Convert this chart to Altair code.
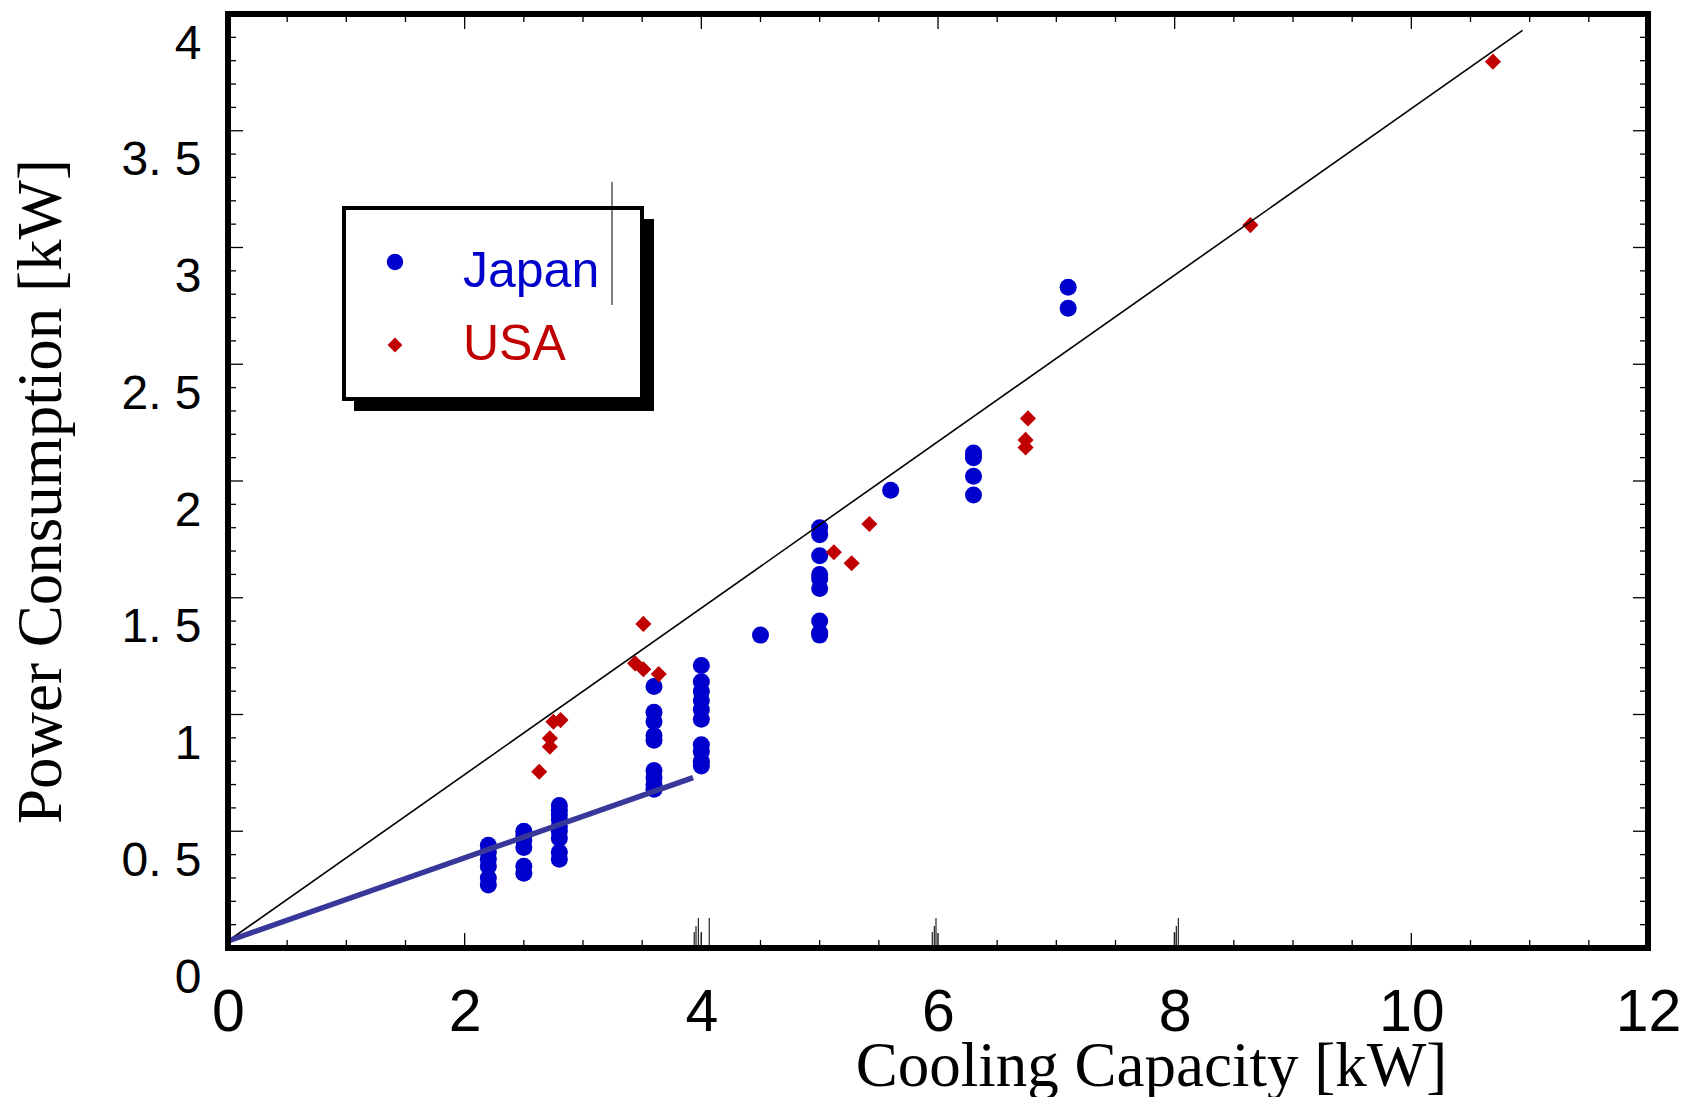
import altair as alt
import pandas as pd

# ---------------- data ----------------
jp_capacity = [2.2, 2.2, 2.2, 2.2, 2.2, 2.2,
               2.5, 2.5, 2.5, 2.5, 2.5, 2.5,
               2.8, 2.8, 2.8, 2.8, 2.8, 2.8, 2.8, 2.8, 2.8,
               3.6, 3.6, 3.6, 3.6, 3.6, 3.6, 3.6, 3.6, 3.6,
               4.0, 4.0, 4.0, 4.0, 4.0, 4.0, 4.0, 4.0, 4.0, 4.0,
               4.5,
               5.0, 5.0, 5.0, 5.0, 5.0, 5.0, 5.0, 5.0, 5.0,
               5.6,
               6.3, 6.3, 6.3, 6.3,
               7.1, 7.1]
jp_power = [0.27, 0.30, 0.35, 0.38, 0.41, 0.44,
            0.50, 0.48, 0.46, 0.43, 0.35, 0.32,
            0.61, 0.59, 0.57, 0.55, 0.52, 0.50, 0.47, 0.41, 0.38,
            1.12, 1.01, 0.97, 0.91, 0.89, 0.76, 0.73, 0.70, 0.68,
            1.21, 1.14, 1.10, 1.06, 1.02, 0.98, 0.87, 0.84, 0.80, 0.78,
            1.34,
            1.80, 1.77, 1.68, 1.60, 1.58, 1.54, 1.40, 1.35, 1.34,
            1.96,
            2.12, 2.10, 2.02, 1.94,
            2.83, 2.74]

us_capacity = [2.63, 2.72, 2.72, 2.75, 2.81, 3.51, 3.44, 3.51, 3.64,
               5.12, 5.27, 5.42, 6.76, 6.74, 6.74, 8.64, 10.69]
us_power = [0.755, 0.898, 0.862, 0.969, 0.976, 1.388, 1.219, 1.194, 1.173,
            1.695, 1.648, 1.816, 2.268, 2.176, 2.144, 3.096, 3.796]

trend_x = [0.0, 10.94]
trend_y = [0.03, 3.93]
jp_fit_x = [0.0, 3.93]
jp_fit_y = [0.03, 0.73]

x_tick_labels = [0, 2, 4, 6, 8, 10, 12]
y_tick_labels = [0, 0.5, 1, 1.5, 2, 2.5, 3, 3.5, 4]
x_major = [2, 4, 6, 8, 10]
x_minor = [0.5, 1, 1.5, 2.5, 3, 3.5, 4.5, 5, 5.5, 6.5, 7, 7.5,
           8.5, 9, 9.5, 10.5, 11, 11.5]
y_major = [0.5, 1, 1.5, 2, 2.5, 3, 3.5]
y_minor = [0.1, 0.2, 0.3, 0.4, 0.6, 0.7, 0.8, 0.9, 1.1, 1.2, 1.3, 1.4,
           1.6, 1.7, 1.8, 1.9, 2.1, 2.2, 2.3, 2.4, 2.6, 2.7, 2.8, 2.9,
           3.1, 3.2, 3.3, 3.4, 3.6, 3.7, 3.8, 3.9]

# small stray strokes visible near the bottom axis of the original
stray_x = [3.94, 3.955, 3.975, 4.0, 4.067, 5.952, 5.969, 5.983, 7.997, 8.014, 8.031]
stray_top = [0.069, 0.094, 0.128, 0.069, 0.128, 0.069, 0.094, 0.128, 0.069, 0.094, 0.128]

legend_labels = ["Japan", "USA"]

# ---------------- layout / style ----------------
W, H = 1420, 934
BLUE = "#0000cc"
RED = "#c00000"
LINEBLUE = "#38389a"
xs = alt.Scale(domain=[0, 12], nice=False, zero=False)
ys = alt.Scale(domain=[0, 4], nice=False, zero=False)

jp = pd.DataFrame({"cap": jp_capacity, "pow": jp_power})
us = pd.DataFrame({"cap": us_capacity, "pow": us_power})
trend = pd.DataFrame({"cap": trend_x, "pow": trend_y})
fit = pd.DataFrame({"cap": jp_fit_x, "pow": jp_fit_y})
one = pd.DataFrame({"a": [0]})

x_axis = alt.Axis(
    values=x_tick_labels, format="d", domain=False, ticks=True, tickSize=0,
    grid=False, labelFont="'Liberation Sans Narrow', 'Liberation Sans', sans-serif",
    labelFontSize=59, labelColor="black", labelPadding=82,
    labelBaseline="alphabetic", labelFlush=False, labelOverlap=False,
    title="Cooling Capacity [kW]", titleFont="Liberation Serif",
    titleFontSize=63, titleFontWeight="normal", titleColor="black",
    titleX=923, titleY=137, titleAlign="center", titleBaseline="alphabetic",
)
y_axis = alt.Axis(
    values=y_tick_labels,
    labelExpr="datum.value % 1 == 0 ? format(datum.value, 'd') : replace(format(datum.value, '.1f'), '.', '. ')",
    domain=False, ticks=True, tickSize=0, grid=False,
    labelFont="Liberation Sans", labelFontSize=48, labelColor="black",
    labelPadding=27, labelOffset=30, labelBaseline="middle", labelAlign="right",
    labelFlush=False, labelOverlap=False,
    title="Power Consumption [kW]", titleFont="Liberation Serif",
    titleFontSize=63, titleFontWeight="normal", titleColor="black",
    titleX=-168, titleY=477, titleAngle=270, titleAlign="center",
    titleBaseline="alphabetic",
)


def X(field):
    return alt.X(field, scale=xs, axis=x_axis)


def Y(field):
    return alt.Y(field, scale=ys, axis=y_axis)


layers = []

# points first (they carry the axes)
layers.append(
    alt.Chart(jp).mark_point(shape="circle", filled=True, size=290, color=BLUE, opacity=1).encode(
        x=X("cap:Q"), y=Y("pow:Q")
    )
)
layers.append(
    alt.Chart(us).mark_point(shape="diamond", filled=True, size=260, color=RED, opacity=1).encode(
        x=X("cap:Q"), y=Y("pow:Q")
    )
)

# lines
layers.append(
    alt.Chart(trend).mark_line(color="black", strokeWidth=1.6).encode(x=X("cap:Q"), y=Y("pow:Q"))
)
layers.append(
    alt.Chart(fit).mark_line(color=LINEBLUE, strokeWidth=5.5).encode(x=X("cap:Q"), y=Y("pow:Q"))
)


# inner tick marks on all four sides
def tick_layers(vals, length, axis_name):
    d = pd.DataFrame({"cap": vals, "pow": vals})
    base = alt.Chart(d).mark_rule(color="black", strokeWidth=1.3)
    if axis_name == "x":
        return [
            base.encode(x=X("cap:Q"), y=alt.value(H), y2=alt.value(H - length)),
            base.encode(x=X("cap:Q"), y=alt.value(0), y2=alt.value(length)),
        ]
    return [
        base.encode(y=Y("pow:Q"), x=alt.value(0), x2=alt.value(length)),
        base.encode(y=Y("pow:Q"), x=alt.value(W), x2=alt.value(W - length)),
    ]


layers += tick_layers(x_minor, 8, "x")
layers += tick_layers(x_major, 15, "x")
layers += tick_layers(y_minor, 8, "y")
layers += tick_layers(y_major, 15, "y")

# stray strokes
stray = pd.DataFrame({"cap": stray_x, "top": stray_top, "pow": [0.0] * len(stray_x)})
layers.append(
    alt.Chart(stray).mark_rule(color="#222222", strokeWidth=1.2).encode(
        x=X("cap:Q"), y=Y("pow:Q"), y2="top:Q"
    )
)

# legend box with drop shadow
layers.append(
    alt.Chart(one).mark_rect(color="black").encode(
        x=alt.value(126), x2=alt.value(426), y=alt.value(205), y2=alt.value(397)
    )
)
layers.append(
    alt.Chart(one).mark_rect(fill="white", stroke="black", strokeWidth=4).encode(
        x=alt.value(116), x2=alt.value(414), y=alt.value(194), y2=alt.value(385)
    )
)
layers.append(
    alt.Chart(one).mark_point(shape="circle", filled=True, size=270, color=BLUE, opacity=1).encode(
        x=alt.value(167), y=alt.value(248)
    )
)
layers.append(
    alt.Chart(one).mark_point(shape="diamond", filled=True, size=220, color=RED, opacity=1).encode(
        x=alt.value(167), y=alt.value(331)
    )
)
LEGEND_FONT = "'Liberation Sans Narrow', 'Liberation Sans', sans-serif"
layers.append(
    alt.Chart(one).mark_text(
        text=legend_labels[0], align="left", baseline="alphabetic",
        font=LEGEND_FONT, fontSize=50, fontWeight=500, color=BLUE,
    ).encode(x=alt.value(235), y=alt.value(273))
)
layers.append(
    alt.Chart(one).mark_text(
        text=legend_labels[1], align="left", baseline="alphabetic",
        font=LEGEND_FONT, fontSize=50, fontWeight=500, color=RED,
    ).encode(x=alt.value(235), y=alt.value(346))
)
layers.append(
    alt.Chart(one).mark_rule(color="black", strokeWidth=1).encode(
        x=alt.value(384), y=alt.value(168), y2=alt.value(291)
    )
)

# plot frame
layers.append(
    alt.Chart(one).mark_rect(fillOpacity=0, stroke="black", strokeWidth=6).encode(
        x=alt.value(0), x2=alt.value(W), y=alt.value(0), y2=alt.value(H)
    )
)

chart = (
    alt.layer(*layers)
    .properties(
        width=W,
        height=H,
        autosize=alt.AutoSizeParams(type="none"),
        padding={"left": 228, "top": 14, "right": 34, "bottom": 149},
        background="white",
    )
    .configure_view(stroke=None)
)

chart.save("out.html", embed_options={"renderer": "svg", "actions": False})
